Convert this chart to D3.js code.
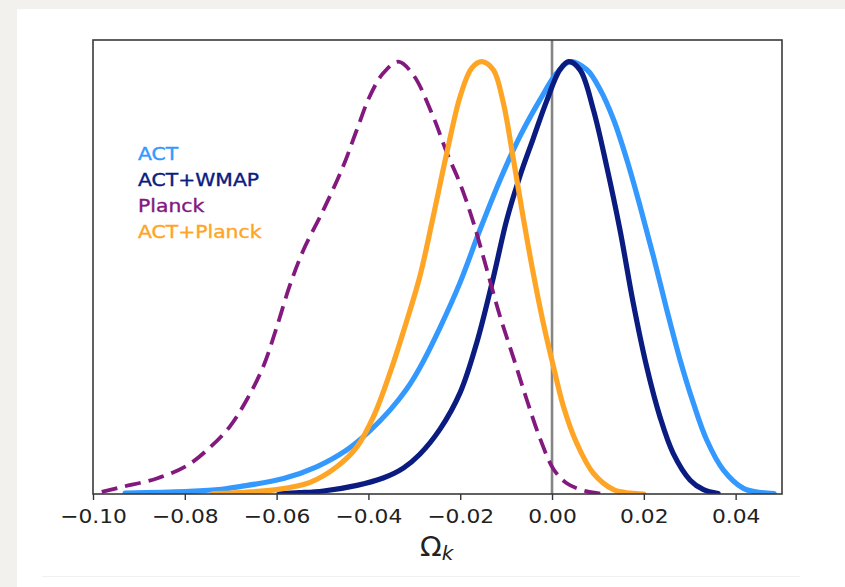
<!DOCTYPE html>
<html>
<head>
<meta charset="utf-8">
<script src="https://cdn.jsdelivr.net/npm/d3@7"></script>
<style>
  html, body { margin: 0; padding: 0; background: #f2f1ed; }
  svg { display: block; }
</style>
</head>
<body>
<svg id="chart" width="845" height="587"></svg>
<script>
// Posterior distributions of the spatial curvature Omega_k (peak-normalised)
const seriesNames = ["ACT", "ACT+WMAP", "Planck", "ACT+Planck"];
const seriesColors = ["#3399ff", "#0b1c80", "#83197f", "#ffa526"];

const actX = [-0.0930, -0.0850, -0.0790, -0.0720, -0.0680, -0.0585, -0.0513, -0.0447, -0.0397, -0.0353, -0.0317, -0.0288, -0.0244, -0.0200, -0.0157, -0.0113, -0.0070, -0.0026, 0.0010, 0.0039, 0.0076, 0.0105, 0.0134, 0.0163, 0.0192, 0.0221, 0.0250, 0.0279, 0.0308, 0.0337, 0.0373, 0.0417, 0.0450, 0.0484];
const actY = [0.002, 0.004, 0.006, 0.011, 0.017, 0.036, 0.063, 0.102, 0.146, 0.194, 0.242, 0.292, 0.385, 0.490, 0.611, 0.727, 0.827, 0.912, 0.973, 1.000, 0.981, 0.935, 0.866, 0.773, 0.665, 0.549, 0.426, 0.310, 0.210, 0.125, 0.056, 0.013, 0.004, 0.001];

const actWmapX = [-0.0595, -0.0550, -0.0498, -0.0425, -0.0368, -0.0324, -0.0288, -0.0244, -0.0200, -0.0164, -0.0128, -0.0099, -0.0070, -0.0041, -0.0012, 0.0017, 0.0036, 0.0061, 0.0090, 0.0119, 0.0148, 0.0177, 0.0206, 0.0235, 0.0264, 0.0301, 0.0330, 0.0362];
const actWmapY = [0.001, 0.003, 0.007, 0.020, 0.037, 0.060, 0.092, 0.150, 0.235, 0.350, 0.500, 0.633, 0.735, 0.822, 0.908, 0.981, 1.000, 0.981, 0.889, 0.758, 0.611, 0.441, 0.295, 0.179, 0.094, 0.032, 0.010, 0.001];

const planckX = [-0.0981, -0.0934, -0.0861, -0.0796, -0.0745, -0.0702, -0.0665, -0.0629, -0.0600, -0.0571, -0.0542, -0.0498, -0.0455, -0.0425, -0.0397, -0.0368, -0.0335, -0.0302, -0.0259, -0.0229, -0.0200, -0.0171, -0.0142, -0.0113, -0.0084, -0.0055, -0.0026, 0.0003, 0.0032, 0.0076, 0.0115];
const planckY = [0.005, 0.017, 0.036, 0.065, 0.108, 0.156, 0.218, 0.295, 0.385, 0.483, 0.563, 0.657, 0.758, 0.843, 0.920, 0.973, 1.000, 0.969, 0.873, 0.789, 0.717, 0.627, 0.519, 0.410, 0.315, 0.218, 0.128, 0.058, 0.025, 0.006, 0.000];

const actPlanckX = [-0.0739, -0.0670, -0.0600, -0.0527, -0.0469, -0.0425, -0.0389, -0.0353, -0.0324, -0.0288, -0.0259, -0.0229, -0.0200, -0.0175, -0.0153, -0.0128, -0.0106, -0.0084, -0.0063, -0.0041, -0.0019, 0.0003, 0.0025, 0.0054, 0.0090, 0.0134, 0.0170, 0.0200];
const actPlanckY = [0.001, 0.004, 0.010, 0.027, 0.063, 0.109, 0.179, 0.280, 0.375, 0.503, 0.641, 0.790, 0.920, 0.985, 1.000, 0.981, 0.904, 0.773, 0.641, 0.511, 0.395, 0.295, 0.202, 0.117, 0.048, 0.010, 0.002, 0.000];

const xTicks = [-0.10, -0.08, -0.06, -0.04, -0.02, 0.00, 0.02, 0.04];
const xTickLabels = ["\u22120.10", "\u22120.08", "\u22120.06", "\u22120.04", "\u22120.02", "0.00", "0.02", "0.04"];

const series = [
  { name: seriesNames[0], color: seriesColors[0], xs: actX, ys: actY, dashed: false },
  { name: seriesNames[1], color: seriesColors[1], xs: actWmapX, ys: actWmapY, dashed: false },
  { name: seriesNames[2], color: seriesColors[2], xs: planckX, ys: planckY, dashed: true },
  { name: seriesNames[3], color: seriesColors[3], xs: actPlanckX, ys: actPlanckY, dashed: false }
];

const svg = d3.select("#chart");
const W = 845, H = 587;

// white card on the paper background
svg.append("rect").attr("x", 17).attr("y", 9).attr("width", W - 17).attr("height", H - 9).attr("fill", "#ffffff");
svg.append("line").attr("x1", 42).attr("x2", 800).attr("y1", 576.5).attr("y2", 576.5)
  .attr("stroke", "#f0f0f0").attr("stroke-width", 1);

const plot = { left: 93, right: 782, top: 40, bottom: 494 };

const x = d3.scaleLinear().domain([-0.10, 0.0501]).range([plot.left, plot.right]);
const y = d3.scaleLinear().domain([0, 1.05]).range([plot.bottom, plot.top]);

svg.append("clipPath").attr("id", "plotclip")
  .append("rect").attr("x", plot.left).attr("y", plot.top)
  .attr("width", plot.right - plot.left).attr("height", plot.bottom - plot.top);

// vertical reference line at zero curvature
svg.append("line")
  .attr("x1", x(0)).attr("x2", x(0)).attr("y1", plot.top).attr("y2", plot.bottom)
  .attr("stroke", "#858585").attr("stroke-width", 2.6);

const line = d3.line()
  .x(d => x(d[0]))
  .y(d => y(d[1]))
  .curve(d3.curveCatmullRom.alpha(0.5));

const g = svg.append("g").attr("clip-path", "url(#plotclip)");
series.forEach(s => {
  const pts = s.xs.map((v, i) => [v, s.ys[i]]);
  g.append("path")
    .datum(pts)
    .attr("d", line)
    .attr("fill", "none")
    .attr("stroke", s.color)
    .attr("stroke-width", s.dashed ? 3.8 : 5.2)
    .attr("stroke-linejoin", "round")
    .attr("stroke-linecap", s.dashed ? "butt" : "round")
    .attr("stroke-dasharray", s.dashed ? "16,8" : null);
});

// x axis
const xAxis = d3.axisBottom(x)
  .tickValues(xTicks)
  .tickFormat((d, i) => xTickLabels[i])
  .tickSize(6)
  .tickSizeOuter(0)
  .tickPadding(9);

const ax = svg.append("g").attr("transform", `translate(0,${plot.bottom})`).call(xAxis);
ax.select(".domain").remove();
ax.selectAll(".tick line").attr("stroke", "#333").attr("stroke-width", 1.4);
ax.selectAll(".tick text")
  .attr("fill", "#222")
  .attr("transform", "scale(1.1,1)")
  .style("font-family", "'DejaVu Sans', sans-serif")
  .style("font-size", "19.8px");

// frame
svg.append("rect")
  .attr("x", plot.left).attr("y", plot.top)
  .attr("width", plot.right - plot.left).attr("height", plot.bottom - plot.top)
  .attr("fill", "none").attr("stroke", "#3a3a3a").attr("stroke-width", 1.6);

// axis title: Omega_k
const title = svg.append("text")
  .attr("transform", "translate(420,556) scale(1.05,1)")
  .attr("fill", "#222")
  .style("font-family", "'DejaVu Sans', sans-serif");
title.append("tspan").style("font-size", "27px").text("\u03A9");
title.append("tspan").attr("dy", 4).style("font-size", "19px").style("font-style", "italic").text("k");

// legend as coloured text labels
const legend = svg.append("g");
series.forEach((s, i) => {
  legend.append("text")
    .attr("transform", `translate(138,${159.5 + i * 26.1}) scale(1.1,1)`)
    .attr("fill", s.color)
    .attr("stroke", s.color)
    .attr("stroke-width", 0.4)
    .style("font-family", "'DejaVu Sans', sans-serif")
    .style("font-size", "18.5px")
    .text(s.name);
});
</script>
</body>
</html>
